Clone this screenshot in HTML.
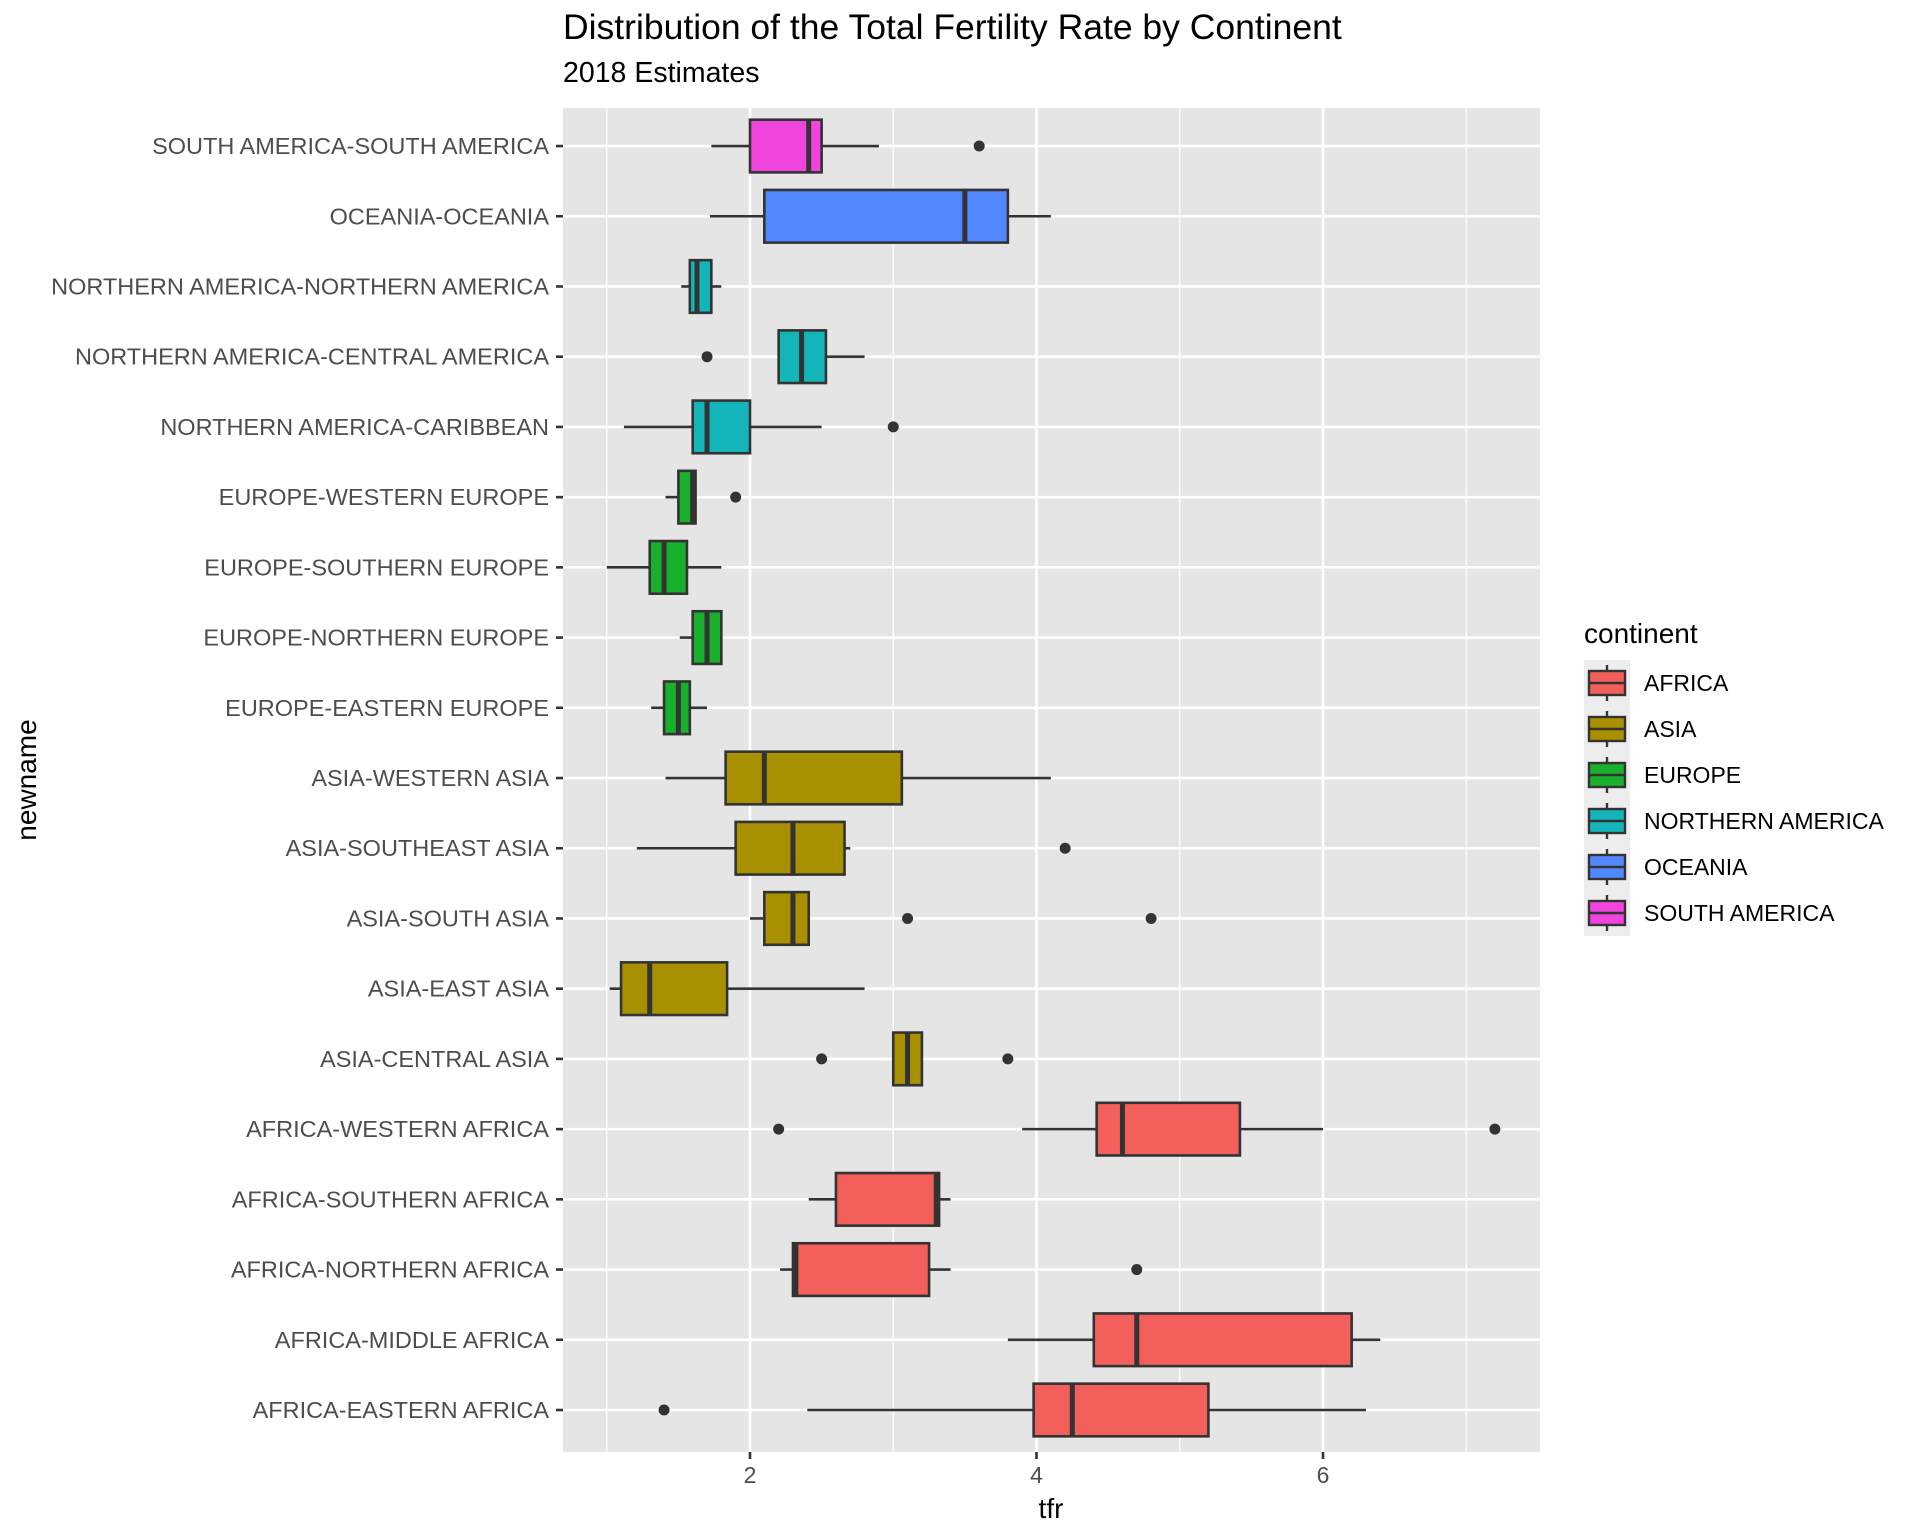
<!DOCTYPE html>
<html><head><meta charset="utf-8">
<style>
html,body{margin:0;padding:0;background:#fff;}
svg{display:block;font-family:"Liberation Sans",Arial,sans-serif;}
</style></head>
<body>
<svg id="chart" width="1920" height="1536" viewBox="0 0 1920 1536">
  <text x="563" y="39" font-size="35.5" fill="#000">Distribution of the Total Fertility Rate by Continent</text>
  <text x="563" y="82" font-size="28.5" fill="#000">2018 Estimates</text>
  <rect x="563" y="108" width="977" height="1344" fill="#E5E5E5"/>
  <g id="grid"></g>
  <g id="marks"></g>
  <g id="yaxis"></g>
  <g id="xaxis"></g>
  <text x="1051" y="1518" font-size="28" text-anchor="middle" fill="#000">tfr</text>
  <text transform="translate(36,780) rotate(-90)" font-size="28" text-anchor="middle" fill="#000">newname</text>
  <g id="legend">
    <text x="1584" y="643" font-size="28" fill="#000">continent</text>
  </g>
</svg>
<script>
const categories = ["AFRICA-EASTERN AFRICA","AFRICA-MIDDLE AFRICA","AFRICA-NORTHERN AFRICA","AFRICA-SOUTHERN AFRICA","AFRICA-WESTERN AFRICA","ASIA-CENTRAL ASIA","ASIA-EAST ASIA","ASIA-SOUTH ASIA","ASIA-SOUTHEAST ASIA","ASIA-WESTERN ASIA","EUROPE-EASTERN EUROPE","EUROPE-NORTHERN EUROPE","EUROPE-SOUTHERN EUROPE","EUROPE-WESTERN EUROPE","NORTHERN AMERICA-CARIBBEAN","NORTHERN AMERICA-CENTRAL AMERICA","NORTHERN AMERICA-NORTHERN AMERICA","OCEANIA-OCEANIA","SOUTH AMERICA-SOUTH AMERICA"];
const continentOf = ["AFRICA","AFRICA","AFRICA","AFRICA","AFRICA","ASIA","ASIA","ASIA","ASIA","ASIA","EUROPE","EUROPE","EUROPE","EUROPE","NORTHERN AMERICA","NORTHERN AMERICA","NORTHERN AMERICA","OCEANIA","SOUTH AMERICA"];
const whiskerLow = [2.4,3.8,2.21,2.41,3.9,3.0,1.02,2.0,1.21,1.41,1.31,1.51,1.0,1.41,1.12,2.2,1.52,1.72,1.73];
const q1 =         [3.98,4.4,2.3,2.6,4.42,3.0,1.1,2.1,1.9,1.83,1.4,1.6,1.3,1.5,1.6,2.2,1.58,2.1,2.0];
const medians =    [4.25,4.7,2.32,3.3,4.6,3.1,1.3,2.3,2.3,2.1,1.5,1.7,1.4,1.6,1.7,2.36,1.63,3.5,2.41];
const q3 =         [5.2,6.2,3.25,3.32,5.42,3.2,1.84,2.41,2.66,3.06,1.58,1.8,1.56,1.62,2.0,2.53,1.73,3.8,2.5];
const whiskerHigh =[6.3,6.4,3.4,3.4,6.0,3.2,2.8,2.41,2.7,4.1,1.7,1.8,1.8,1.62,2.5,2.8,1.8,4.1,2.9];
const outliers = [[1.4],[],[4.7],[],[2.2,7.2],[2.5,3.8],[],[3.1,4.8],[4.2],[],[],[],[],[1.9],[3.0],[1.7],[],[],[3.6]];
const continents = ["AFRICA","ASIA","EUROPE","NORTHERN AMERICA","OCEANIA","SOUTH AMERICA"];
const continentColors = ["#F35F5B","#A89000","#18B02C","#14B5B9","#5288FF","#F044DC"];
const xTicks = [2,4,6];
const xMinor = [1,3,5,7];

const NS="http://www.w3.org/2000/svg";
const PL=563, PR=1540, PT=108, PB=1452;
function xs(v){return 750 + (v-2)*143.25;}
const step = 70.22;
function ys(i){return 1410 - i*step;}
function mk(tag,attrs,parent){const e=document.createElementNS(NS,tag);for(const k in attrs)e.setAttribute(k,attrs[k]);parent.appendChild(e);return e;}
const grid=document.getElementById('grid'), marks=document.getElementById('marks'), yax=document.getElementById('yaxis'), xax=document.getElementById('xaxis'), leg=document.getElementById('legend');

xMinor.forEach(v=>{const l=mk('line',{x1:xs(v),x2:xs(v),y1:PT,y2:PB,stroke:'#fff','stroke-width':1.3},grid);

});
xTicks.forEach(v=>{const l=mk('line',{x1:xs(v),x2:xs(v),y1:PT,y2:PB,stroke:'#fff','stroke-width':2.6},grid);


const t=mk('line',{x1:xs(v),x2:xs(v),y1:PB,y2:PB+7,stroke:'#333','stroke-width':2.6},xax);


const tx=mk('text',{x:xs(v),y:PB+31,'font-size':23,'text-anchor':'middle',fill:'#4D4D4D'},xax);tx.textContent=v;

});

categories.forEach((c,i)=>{
  const y=ys(i);
  const col=continentColors[continents.indexOf(continentOf[i])];
  const g=mk('line',{x1:PL,x2:PR,y1:y,y2:y,stroke:'#fff','stroke-width':2.6},grid);
  
  
  const tk=mk('line',{x1:PL-7,x2:PL,y1:y,y2:y,stroke:'#333','stroke-width':2.6},yax);
  
  
  const lb=mk('text',{x:549,y:y+8,'font-size':23.5,'text-anchor':'end',fill:'#4D4D4D'},yax);
  lb.textContent=c;
  
  
  const grp=mk('g',{},marks);
  
  
  const h=step*0.75;
  mk('line',{x1:xs(whiskerLow[i]),x2:xs(q1[i]),y1:y,y2:y,stroke:'#333','stroke-width':2.6},grp);
  mk('line',{x1:xs(q3[i]),x2:xs(whiskerHigh[i]),y1:y,y2:y,stroke:'#333','stroke-width':2.6},grp);
  mk('rect',{x:xs(q1[i]),y:y-h/2,width:Math.max(0.5,xs(q3[i])-xs(q1[i])),height:h,fill:col,stroke:'#333','stroke-width':2.6},grp);
  mk('line',{x1:xs(medians[i]),x2:xs(medians[i]),y1:y-h/2,y2:y+h/2,stroke:'#333','stroke-width':5},grp);
  outliers[i].forEach(o=>{const p=mk('circle',{cx:xs(o),cy:y,r:5.5,fill:'#333'},grp);
    
    });
});

continents.forEach((c,i)=>{
  const y0=660+i*46;
  const ge=mk('g',{},leg);
  
  
  mk('rect',{x:1584,y:y0,width:46,height:46,fill:'#EDEDED'},ge);
  mk('line',{x1:1607,x2:1607,y1:y0+5,y2:y0+41,stroke:'#333','stroke-width':2.4},ge);
  mk('rect',{x:1589,y:y0+11,width:36,height:24,fill:continentColors[i],stroke:'#333','stroke-width':2.4},ge);
  mk('line',{x1:1589,x2:1625,y1:y0+23,y2:y0+23,stroke:'#333','stroke-width':2.4},ge);
  const t=mk('text',{x:1644,y:y0+31,'font-size':23,fill:'#000'},ge);t.textContent=c;
});
</script>
</body></html>
